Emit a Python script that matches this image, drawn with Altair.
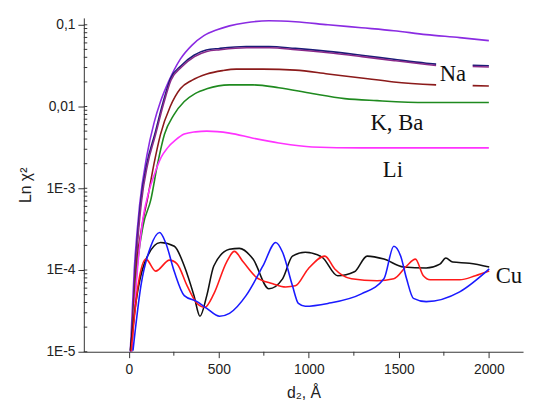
import altair as alt
import pandas as pd

# ---------------- data ----------------
violet_x = [8, 30, 60, 100, 140, 176, 220, 286, 350, 417, 490, 559, 650, 778, 925, 1106, 1292, 1472, 1652, 1838, 2000]
violet_y = [1e-5, 1e-4, 6.3e-4, 2.5e-3, 6.3e-3, 0.0115, 0.02, 0.038, 0.056, 0.0736, 0.087, 0.097, 0.106, 0.112, 0.109, 0.1, 0.092, 0.0847, 0.0758, 0.0697, 0.064]

navy_x = [12, 35, 67, 100, 144, 190, 231, 290, 362, 430, 504, 652, 778, 925, 1106, 1292, 1472, 1652, 1707, 1910, 2000]
navy_y = [1e-5, 1e-4, 7.1e-4, 2.0e-3, 4.57e-3, 0.0112, 0.0219, 0.0316, 0.0424, 0.049, 0.0514, 0.0543, 0.0543, 0.0514, 0.0473, 0.0424, 0.0378, 0.0339, 0.033, 0.032, 0.0316]
navy_seg = [0] * 19 + [1] * 2

purple_x = [13, 37, 70, 103, 147, 193, 234, 293, 365, 433, 507, 655, 781, 928, 1109, 1295, 1475, 1655, 1707, 1910, 2000]
purple_y = [1e-5, 9.6e-5, 6.8e-4, 1.9e-3, 4.4e-3, 0.0108, 0.021, 0.0304, 0.0408, 0.0472, 0.0496, 0.0524, 0.0524, 0.0496, 0.0456, 0.0408, 0.0364, 0.0327, 0.0318, 0.0309, 0.0305]
purple_seg = [0] * 19 + [1] * 2

maroon_x = [14, 40, 70, 106, 140, 176, 230, 286, 350, 433, 520, 597, 745, 925, 1106, 1292, 1472, 1707, 1910, 2000]
maroon_y = [1e-5, 1e-4, 3.16e-4, 7.9e-4, 2e-3, 4.57e-3, 0.01, 0.0165, 0.0209, 0.025, 0.0275, 0.0287, 0.0287, 0.0279, 0.025, 0.0223, 0.02, 0.0184, 0.018, 0.0178]
maroon_seg = [0] * 18 + [1] * 2

green_x = [16, 45, 80, 122, 160, 198, 250, 308, 370, 433, 559, 690, 833, 1018, 1199, 1379, 1652, 2000]
green_y = [1e-5, 1e-4, 3.55e-4, 7.2e-4, 2e-3, 4.57e-3, 7.9e-3, 0.0115, 0.0145, 0.0165, 0.0184, 0.0184, 0.017, 0.0144, 0.0125, 0.0118, 0.0112, 0.0112]

pink_x = [15, 40, 79, 110, 144, 180, 215, 260, 308, 370, 433, 559, 690, 833, 1018, 1292, 1652, 2000]
pink_y = [1e-5, 6.3e-5, 4.35e-4, 8.9e-4, 1.52e-3, 2.4e-3, 3.12e-3, 3.9e-3, 4.6e-3, 4.9e-3, 5.0e-3, 4.73e-3, 4.1e-3, 3.58e-3, 3.2e-3, 3.12e-3, 3.12e-3, 3.12e-3]

cu_black_x = [8, 40, 89, 176, 253, 308, 362, 395, 433, 472, 559, 614, 690, 778, 854, 909, 980, 1073, 1160, 1253, 1324, 1417, 1526, 1652, 1728, 1761, 1799, 1892, 2002]
cu_black_y = [1.03e-5, 4.1e-5, 1.25e-4, 2.17e-4, 1.95e-4, 1.12e-4, 4.86e-5, 2.72e-5, 4.86e-5, 1.12e-4, 1.79e-4, 1.84e-4, 1.36e-4, 5.9e-5, 7.8e-5, 1.48e-4, 1.65e-4, 1.44e-4, 8.5e-5, 9.5e-5, 1.48e-4, 1.36e-4, 1.09e-4, 1.06e-4, 1.18e-4, 1.40e-4, 1.25e-4, 1.21e-4, 1.09e-4]

cu_red_x = [13, 51, 95, 149, 226, 269, 324, 379, 422, 472, 543, 586, 636, 707, 800, 871, 925, 996, 1089, 1144, 1237, 1379, 1472, 1543, 1592, 1636, 1674, 1838, 1925, 2002]
cu_red_y = [1.03e-5, 6.4e-5, 1.36e-4, 9.7e-5, 1.32e-4, 1.18e-4, 6.4e-5, 3.9e-5, 3.5e-5, 5.1e-5, 1.25e-4, 1.69e-4, 1.25e-4, 8.2e-5, 6.8e-5, 6.2e-5, 6.4e-5, 1.03e-4, 1.48e-4, 1.03e-4, 7.8e-5, 7.4e-5, 7.8e-5, 1.12e-4, 1.36e-4, 8.5e-5, 7.6e-5, 7.6e-5, 8.5e-5, 9.7e-5]

cu_blue_x = [23, 67, 122, 171, 204, 253, 308, 379, 433, 504, 559, 651, 745, 816, 854, 909, 942, 980, 1106, 1292, 1417, 1472, 1510, 1543, 1581, 1652, 1838, 2002]
cu_blue_y = [1.03e-5, 6.4e-5, 1.95e-4, 2.87e-4, 2.17e-4, 9.5e-5, 4.86e-5, 4.1e-5, 3.4e-5, 2.72e-5, 2.95e-5, 4.86e-5, 1.12e-4, 2.17e-4, 1.65e-4, 6.4e-5, 3.9e-5, 3.6e-5, 3.9e-5, 5.1e-5, 7.8e-5, 1.95e-4, 1.48e-4, 7.8e-5, 4.5e-5, 4.1e-5, 5.4e-5, 1.03e-4]

series_names = ["violet", "navy", "purple", "maroon", "green", "pink", "cu_black", "cu_red", "cu_blue"]
series_colors = ["#8a2be2", "#1c1c78", "#8a2a8a", "#8b1a1a", "#1f8a1f", "#ff33ff", "#111111", "#ff1a1a", "#1a1aff"]

label_text = ["Na", "K, Ba", "Li", "Cu"]
label_x = [1800, 1489, 1467, 2111]
label_y = [0.025, 6.2e-3, 1.65e-3, 8.5e-5]

xtick_major = [0, 500, 1000, 1500, 2000]
xtick_minor = [250, 750, 1250, 1750]
ytick_vals = [1e-5, 1e-4, 1e-3, 0.01, 0.1]
ytick_labels = ["1E-5", "1E-4", "1E-3", "0,01", "0,1"]

# ---------------- build tables ----------------
series_data = [
    ("violet", violet_x, violet_y, None),
    ("navy", navy_x, navy_y, navy_seg),
    ("purple", purple_x, purple_y, purple_seg),
    ("maroon", maroon_x, maroon_y, maroon_seg),
    ("green", green_x, green_y, None),
    ("pink", pink_x, pink_y, None),
    ("cu_black", cu_black_x, cu_black_y, None),
    ("cu_red", cu_red_x, cu_red_y, None),
    ("cu_blue", cu_blue_x, cu_blue_y, None),
]
rows = []
for order, (name, xs_, ys_, segs) in enumerate(series_data):
    for i, (xv, yv) in enumerate(zip(xs_, ys_)):
        seg = segs[i] if segs else 0
        rows.append({"series": name, "grp": f"{order}_{name}_{seg}", "x": xv, "y": yv, "i": i})
df = pd.DataFrame(rows)

labels_df = pd.DataFrame({"text": label_text, "x": label_x, "y": label_y})

yminor = [k * 10.0 ** d for d in range(-5, -1) for k in range(2, 10)]
yticks_inside_df = pd.DataFrame({"y": sorted(yminor + ytick_vals)})
xminor_df = pd.DataFrame({"x": xtick_minor})

y_label_expr = " : ".join(
    f"(datum.value > {v * 0.99} && datum.value < {v * 1.01}) ? '{t}'" for v, t in zip(ytick_vals, ytick_labels)
) + " : ''"

xdom = [-250, 2190]
ydom = [1e-5, 0.1214]
W, H = 446, 339
xs = alt.Scale(domain=xdom, nice=False, zero=False)
ys = alt.Scale(type="log", domain=ydom, nice=False)

axis_common = dict(
    domainColor="#333333", tickColor="#333333", labelColor="#222222",
    labelFont="Liberation Sans", labelFontSize=14, titleFont="Liberation Sans",
    titleFontSize=16, titleFontWeight="normal", titleColor="#222222", grid=False,
)

lines = alt.Chart(df).mark_line(strokeWidth=1.6, clip=True, interpolate="monotone").encode(
    x=alt.X("x:Q", scale=xs, axis=alt.Axis(
        orient="bottom", values=xtick_major, format="d", tickSize=6,
        labelPadding=5, title="d\u2082, \u00c5",
        titleY=46, titleBaseline="alphabetic", labelFlush=False, **axis_common)),
    y=alt.Y("y:Q", scale=ys, axis=alt.Axis(
        orient="left", values=ytick_vals, labelExpr=y_label_expr, tickSize=6,
        labelPadding=3,
        title="Ln \u03c7\u00b2", titleX=-59, titleY=169.5, titleAngle=270,
        titleAlign="center", titleBaseline="middle", **axis_common)),
    color=alt.Color("series:N", scale=alt.Scale(domain=series_names, range=series_colors), legend=None),
    detail="grp:N",
    order="i:Q",
)

# minor ticks: y ticks on the inner side of the axis, x minor ticks below the axis
y_inner_ticks = alt.Chart(yticks_inside_df).mark_rule(color="#333333", strokeWidth=1).encode(
    y=alt.Y("y:Q", scale=ys), x=alt.value(0), x2=alt.value(3.5)
)
x_minor_ticks = alt.Chart(xminor_df).mark_rule(color="#333333", strokeWidth=1).encode(
    x=alt.X("x:Q", scale=xs), y=alt.value(H), y2=alt.value(H + 4)
)

texts = alt.Chart(labels_df).mark_text(
    font="Liberation Serif", fontSize=23, color="#111111", align="center", baseline="middle"
).encode(
    x=alt.X("x:Q", scale=xs),
    y=alt.Y("y:Q", scale=ys),
    text="text:N",
)

chart = alt.layer(lines, y_inner_ticks, x_minor_ticks, texts).properties(
    width=W, height=H,
    autosize=alt.AutoSizeParams(type="none"),
    padding={"left": 77, "top": 7, "right": 4, "bottom": 50},
    background="white",
).configure_view(stroke=None)

chart.save("out.html", embed_options={"renderer": "svg", "actions": False})
